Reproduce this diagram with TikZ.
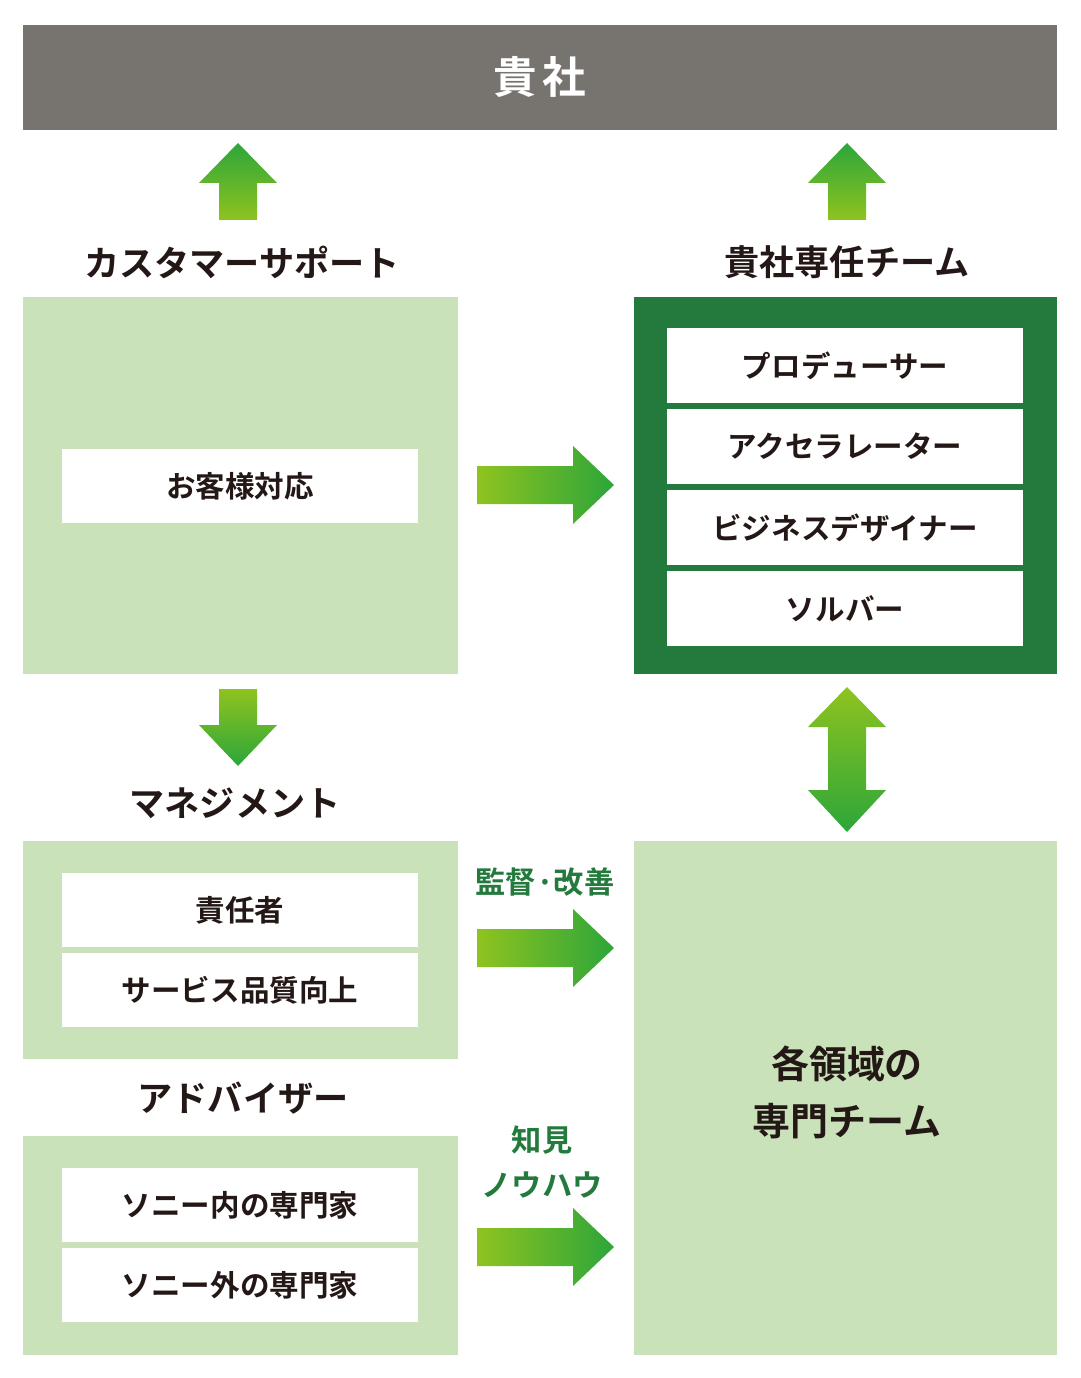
\documentclass[tikz,border=0pt]{standalone}
\usepackage{fontspec}
\setmainfont{Noto Sans CJK JP}[BoldFont={Noto Sans CJK JP Bold}]
\usetikzlibrary{positioning}

\definecolor{barGray}{HTML}{77736E}
\definecolor{paleGreen}{HTML}{C9E2B9}
\definecolor{deepGreen}{HTML}{247A3C}
\definecolor{inkDark}{HTML}{231815}
\definecolor{arrowLight}{HTML}{8FC31F}
\definecolor{arrowDark}{HTML}{2CA63A}

\begin{document}
\begin{tikzpicture}[
  x=0.025cm, y=-0.025cm,
  every node/.style={inner sep=0pt, outer sep=0pt, text=inkDark, font=\bfseries},
  panel/.style={fill=paleGreen, minimum width=10.875cm},
  itembox/.style={fill=white, minimum width=8.9cm, minimum height=1.85cm, font=\fontsize{21}{24}\selectfont\bfseries},
  heading/.style={font=\fontsize{25}{28}\selectfont\bfseries},
  greenlabel/.style={text=deepGreen, font=\fontsize{21.5}{24}\selectfont\bfseries},
  node distance=0.15cm
]
\useasboundingbox[fill=white] (0,0) rectangle (1080,1378);

% Top bar
\node[fill=barGray, minimum width=25.85cm, minimum height=2.625cm, text=white,
      font=\fontsize{31}{34}\selectfont\bfseries] (topbar) at (540,77.5) {貴\hspace{4pt}社};

% Titles
\node[heading] (supporttitle) at (242,262) {カスタマーサポート};
\node[heading] (teamtitle) at (847,262) {貴社専任チーム};
\node[heading] (mgmttitle) at (235,803) {マネジメント};
\node[heading] (advtitle) at (243,1098) {アドバイザー};

% Customer support
\node[panel, minimum height=9.425cm] (supportpanel) at (240.5,485.5) {};
\node[itembox] (taskbox) at (240,486) {お客様対応};

% Dedicated team
\node[fill=deepGreen, minimum width=10.575cm, minimum height=9.425cm] (teampanel) at (845.5,485.5) {};
\node[itembox, minimum height=1.875cm] (producer) at (845,365.5) {プロデューサー};
\node[itembox, minimum height=1.875cm, below=of producer] (accelerator) {アクセラレーター};
\node[itembox, minimum height=1.875cm, below=of accelerator] (designer) {ビジネスデザイナー};
\node[itembox, minimum height=1.875cm, below=of designer] (solver) {ソルバー};

% Management
\node[panel, minimum height=5.45cm] (mgmtpanel) at (240.5,950) {};
\node[itembox] (leader) at (240,910) {責任者};
\node[itembox, below=of leader] (quality) {サービス品質向上};

% Advisers
\node[panel, minimum height=5.475cm] (advpanel) at (240.5,1245.5) {};
\node[itembox] (inner) at (240,1205) {ソニー内の専門家};
\node[itembox, below=of inner] (outer) {ソニー外の専門家};

% Experts
\node[panel, minimum width=10.575cm, minimum height=12.85cm] (expertpanel) at (845.5,1098) {};
\node[align=center, font=\fontsize{27}{40.5}\selectfont\bfseries] (expertlabel) at (847,1092) {各領域の\\専門チーム};

% Arrow labels
\node[greenlabel] (superviselabel) at (545,882) {監督·改善};
\node[greenlabel, align=center, font=\fontsize{21.5}{32}\selectfont\bfseries] (knowlabel) at (542,1162) {知見\\ノウハウ};

% Up arrows
\shade[bottom color=arrowLight, top color=arrowDark, shift={(238,0)}]
  (-19,220) -- (-19,183) -- (-39,183) -- (0,143) -- (39,183) -- (19,183) -- (19,220) -- cycle;
\shade[bottom color=arrowLight, top color=arrowDark, shift={(847,0)}]
  (-19,220) -- (-19,183) -- (-39,183) -- (0,143) -- (39,183) -- (19,183) -- (19,220) -- cycle;

% Down arrow
\shade[top color=arrowLight, bottom color=arrowDark, shift={(238,0)}]
  (-19,689) -- (19,689) -- (19,725) -- (39,725) -- (0,766) -- (-39,725) -- (-19,725) -- cycle;

% Double arrow
\shade[top color=arrowLight, bottom color=arrowDark, shift={(847,0)}]
  (0,687) -- (39,727) -- (19,727) -- (19,790) -- (39,790) -- (0,832)
  -- (-39,790) -- (-19,790) -- (-19,727) -- (-39,727) -- cycle;

% Right arrows
\foreach \cy in {485,948,1247}
  \shade[left color=arrowLight, right color=arrowDark, shift={(545,\cy)}]
    (-68,-19) -- (28,-19) -- (28,-39) -- (69,0) -- (28,39) -- (28,19) -- (-68,19) -- cycle;

\end{tikzpicture}
\end{document}
